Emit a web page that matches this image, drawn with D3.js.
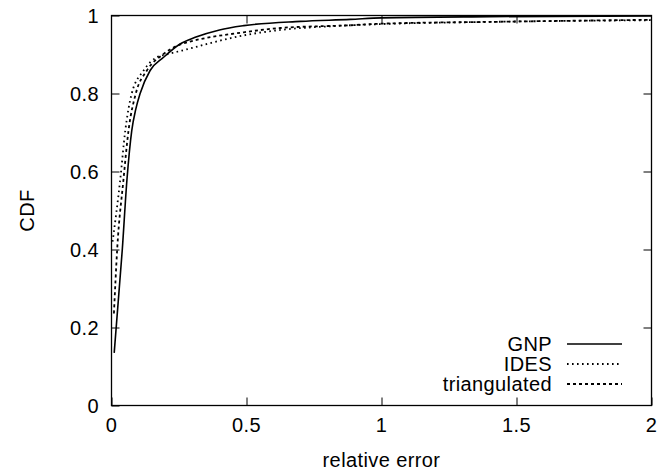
<!DOCTYPE html>
<html><head><meta charset="utf-8">
<script src="https://cdn.jsdelivr.net/npm/d3@7"></script>
<style>body{margin:0;background:#fff}svg{display:block}text{font-family:"Liberation Sans",Arial,sans-serif;fill:#000;letter-spacing:0.4px}</style>
</head><body>
<svg id="c" width="660" height="474"></svg>
<script>
const seriesNames = ["GNP", "IDES", "triangulated"];
const gnpX = [0.010, 0.040, 0.057, 0.075, 0.090, 0.106, 0.143, 0.193, 0.254, 0.310, 0.400, 0.490, 0.700, 0.885, 1.000, 1.400, 2.000];
const gnpY = [0.135, 0.400, 0.577, 0.705, 0.760, 0.800, 0.859, 0.893, 0.927, 0.944, 0.963, 0.974, 0.985, 0.990, 0.994, 0.997, 0.999];
const idesX = [0.004, 0.032, 0.051, 0.075, 0.119, 0.168, 0.204, 0.300, 0.370, 0.490, 0.626, 0.800, 1.000, 1.440, 2.000];
const idesY = [0.420, 0.577, 0.705, 0.800, 0.859, 0.893, 0.900, 0.917, 0.930, 0.949, 0.963, 0.972, 0.978, 0.984, 0.988];
const triX = [0.009, 0.021, 0.044, 0.063, 0.090, 0.131, 0.190, 0.259, 0.290, 0.490, 0.626, 0.885, 1.000, 1.440, 2.000];
const triY = [0.236, 0.400, 0.577, 0.705, 0.800, 0.859, 0.900, 0.927, 0.933, 0.957, 0.968, 0.975, 0.979, 0.984, 0.989];
const xTicks = [0, 0.5, 1, 1.5, 2];
const yTicks = [0, 0.2, 0.4, 0.6, 0.8, 1];
const xLabel = "relative error";
const yLabel = "CDF";

const L = 111.5, R = 651.5, T = 15.5, B = 405.5;
const FS = 20;
const svg = d3.select("#c");
const x = d3.scaleLinear().domain([0, 2]).range([L, R]);
const y = d3.scaleLinear().domain([0, 1]).range([B, T]);
const tk = 8;

const fmt = d => String(d);
svg.append("g").attr("transform", `translate(0,${B})`)
  .call(d3.axisBottom(x).tickValues(xTicks).tickFormat("").tickSizeInner(-tk).tickSizeOuter(0));
svg.append("g").attr("transform", `translate(0,${T})`)
  .call(d3.axisTop(x).tickValues(xTicks.slice(1,-1)).tickFormat("").tickSizeInner(-tk).tickSizeOuter(0));
svg.append("g").attr("transform", `translate(${L},0)`)
  .call(d3.axisLeft(y).tickValues(yTicks).tickFormat("").tickSizeInner(-tk).tickSizeOuter(0));
svg.append("g").attr("transform", `translate(${R},0)`)
  .call(d3.axisRight(y).tickValues(yTicks.slice(1,-1)).tickFormat("").tickSizeInner(-tk).tickSizeOuter(0));
svg.selectAll(".domain").remove();
svg.selectAll(".tick line").attr("stroke", "#000").attr("stroke-width", 1);
svg.append("rect").attr("x", L).attr("y", T).attr("width", R - L).attr("height", B - T)
  .attr("fill", "none").attr("stroke", "#000").attr("stroke-width", 1.3);

svg.append("g").selectAll("text").data(xTicks).join("text")
  .attr("x", d => x(d)).attr("y", 431.5).attr("text-anchor", "middle").attr("font-size", FS).text(fmt);
svg.append("g").selectAll("text").data(yTicks).join("text")
  .attr("x", 99).attr("y", d => y(d) + 7).attr("text-anchor", "end").attr("font-size", FS).text(fmt);
svg.append("text").attr("x", (L + R) / 2).attr("y", 467).attr("text-anchor", "middle").attr("font-size", FS).text(xLabel);
svg.append("text").attr("transform", `translate(34,${(T + B) / 2}) rotate(-90)`).attr("text-anchor", "middle").attr("font-size", FS).text(yLabel);

const series = [
  {name: seriesNames[0], xs: gnpX, ys: gnpY, dash: null, w: 1.6},
  {name: seriesNames[1], xs: idesX, ys: idesY, dash: "1.6,3.4", w: 1.8},
  {name: seriesNames[2], xs: triX, ys: triY, dash: "3,3", w: 1.8}
];
const line = d3.line().x(d => x(d[0])).y(d => y(d[1])).curve(d3.curveMonotoneX);
svg.append("clipPath").attr("id", "pc").append("rect").attr("x", L).attr("y", T - 2).attr("width", R - L).attr("height", B - T + 2);
series.forEach(s => {
  svg.append("path").datum(s.xs.map((v, i) => [v, s.ys[i]]))
    .attr("d", line).attr("fill", "none").attr("stroke", "#000")
    .attr("stroke-width", s.w).attr("stroke-dasharray", s.dash)
    .attr("clip-path", "url(#pc)");
});

const ly = [344, 364, 384];
series.forEach((s, i) => {
  svg.append("text").attr("x", 552).attr("y", ly[i] + 7).attr("text-anchor", "end").attr("font-size", FS).text(s.name);
  svg.append("line").attr("x1", 567).attr("x2", 622).attr("y1", ly[i]).attr("y2", ly[i])
    .attr("stroke", "#000").attr("stroke-width", s.w).attr("stroke-dasharray", s.dash);
});
</script>
</body></html>
